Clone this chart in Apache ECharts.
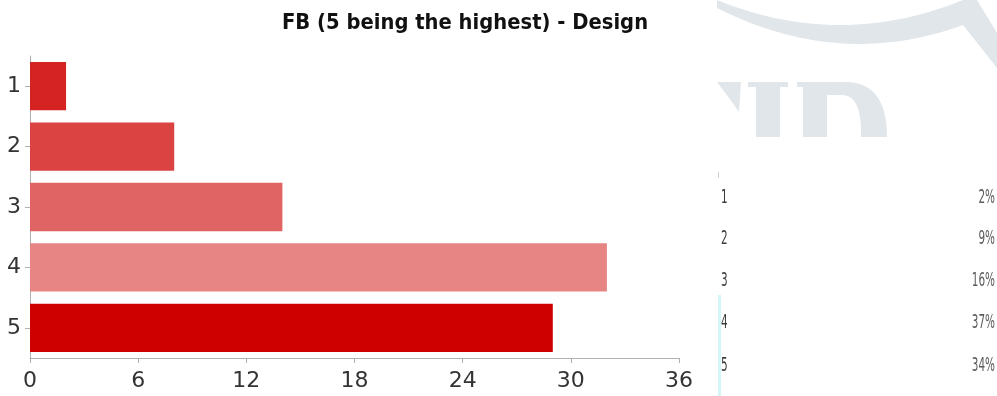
<!DOCTYPE html>
<html>
<head>
<meta charset="utf-8">
<script src="https://cdn.jsdelivr.net/npm/echarts@6/dist/echarts.min.js"></script>
<style>
  html, body { margin: 0; padding: 0; background: #fff; }
  #chart { width: 997px; height: 396px; }
</style>
</head>
<body>
<div id="chart"></div>
<script>
// Ratings 1..5 and the number of responses for each
const categories = ['1', '2', '3', '4', '5'];
const counts = [2, 8, 14, 32, 29];
const barColors = ['#d52222', '#db4343', '#e06464', '#e78584', '#ce0000'];
const xTicks = [0, 6, 12, 18, 24, 30, 36];
// Share of responses shown in the side table
const shareLabels = ['2%', '9%', '16%', '37%', '34%'];
const chartTitle = 'FB (5 being the highest) - Design';

const FONT = "'DejaVu Sans', 'Liberation Sans', sans-serif";
const chart = echarts.init(document.getElementById('chart'));

// sample a quadratic curve into polygon points
function quad(p0, c, p1, n) {
  const pts = [];
  for (let k = 0; k <= n; k++) {
    const t = k / n, u = 1 - t;
    pts.push([u * u * p0[0] + 2 * u * t * c[0] + t * t * p1[0],
              u * u * p0[1] + 2 * u * t * c[1] + t * t * p1[1]]);
  }
  return pts;
}

// Side table rows
const tableRowsY = [198, 239, 281, 323, 366];
const tableEls = [];
categories.forEach((c, i) => {
  tableEls.push({
    type: 'text', x: 721, y: tableRowsY[i], scaleX: 0.55,
    style: { text: c, fill: '#3c3c3c', font: '19px ' + FONT, verticalAlign: 'middle', align: 'left' }
  });
  tableEls.push({
    type: 'text', x: 995, y: tableRowsY[i], scaleX: 0.55,
    style: { text: shareLabels[i], fill: '#5c5c5c', font: '19px ' + FONT, verticalAlign: 'middle', align: 'right' }
  });
});

const wm = '#e0e6ea';
// faint logo arc: upper edge, right hook, lower edge back
const arcPts = quad([717, 0], [840, 50], [963, 0], 30)
  .concat([[977, 0], [997, 33], [997, 68]])
  .concat(quad([963, 25], [840, 70], [717, 8], 30));
// bowl of the last logo letter
const bowlPts = [[827, 82]].concat(quad([848, 82], [887, 84], [887, 137], 16))
  .concat(quad([861, 137], [862, 95], [842, 95], 16)).concat([[827, 95]]);

const option = {
  animation: false,
  grid: { left: 30, right: 318, top: 56, bottom: 38, containLabel: false },
  xAxis: {
    type: 'value', min: xTicks[0], max: xTicks[xTicks.length - 1], interval: 6,
    axisLine: { show: true, lineStyle: { color: '#b0b0b0', width: 1 } },
    axisTick: { show: true, length: 5, lineStyle: { color: '#b0b0b0' } },
    axisLabel: { fontFamily: FONT, fontSize: 22, color: '#333', margin: 12 },
    splitLine: { show: false }
  },
  yAxis: {
    type: 'category', data: categories, inverse: true,
    axisLine: { show: true, lineStyle: { color: '#b0b0b0', width: 1 } },
    axisTick: { show: true, length: 5, alignWithLabel: true, lineStyle: { color: '#b0b0b0' } },
    axisLabel: { fontFamily: FONT, fontSize: 22, color: '#333', margin: 9 }
  },
  series: [{
    type: 'bar',
    barCategoryGap: '20%',
    data: counts.map((v, i) => ({ value: v, itemStyle: { color: barColors[i] } }))
  }],
  graphic: [
    { type: 'polygon', silent: true, z: -10, shape: { points: arcPts }, style: { fill: wm } },
    { type: 'polygon', silent: true, z: -10, shape: { points: [[717, 82], [741, 82], [739, 112], [729, 98]] }, style: { fill: wm } },
    { type: 'rect', silent: true, z: -10, shape: { x: 748, y: 82, width: 40, height: 5 }, style: { fill: wm } },
    { type: 'rect', silent: true, z: -10, shape: { x: 756, y: 82, width: 24, height: 55 }, style: { fill: wm } },
    { type: 'rect', silent: true, z: -10, shape: { x: 797, y: 82, width: 40, height: 5 }, style: { fill: wm } },
    { type: 'rect', silent: true, z: -10, shape: { x: 803, y: 82, width: 24, height: 55 }, style: { fill: wm } },
    { type: 'polygon', silent: true, z: -10, shape: { points: bowlPts }, style: { fill: wm } },
    // table edge marks
    { type: 'rect', silent: true, shape: { x: 718, y: 295, width: 3, height: 101 }, style: { fill: '#d4f6f6' } },
    { type: 'rect', silent: true, shape: { x: 718, y: 172, width: 1, height: 6 }, style: { fill: '#cfcfcf' } },
    // chart heading
    { type: 'text', x: 465, y: 23, scaleX: 0.89, originX: 0,
      style: { text: chartTitle, fill: '#111', font: 'bold 22px ' + FONT, align: 'center', verticalAlign: 'middle' } }
  ].concat(tableEls)
};
chart.setOption(option);
</script>
</body>
</html>
